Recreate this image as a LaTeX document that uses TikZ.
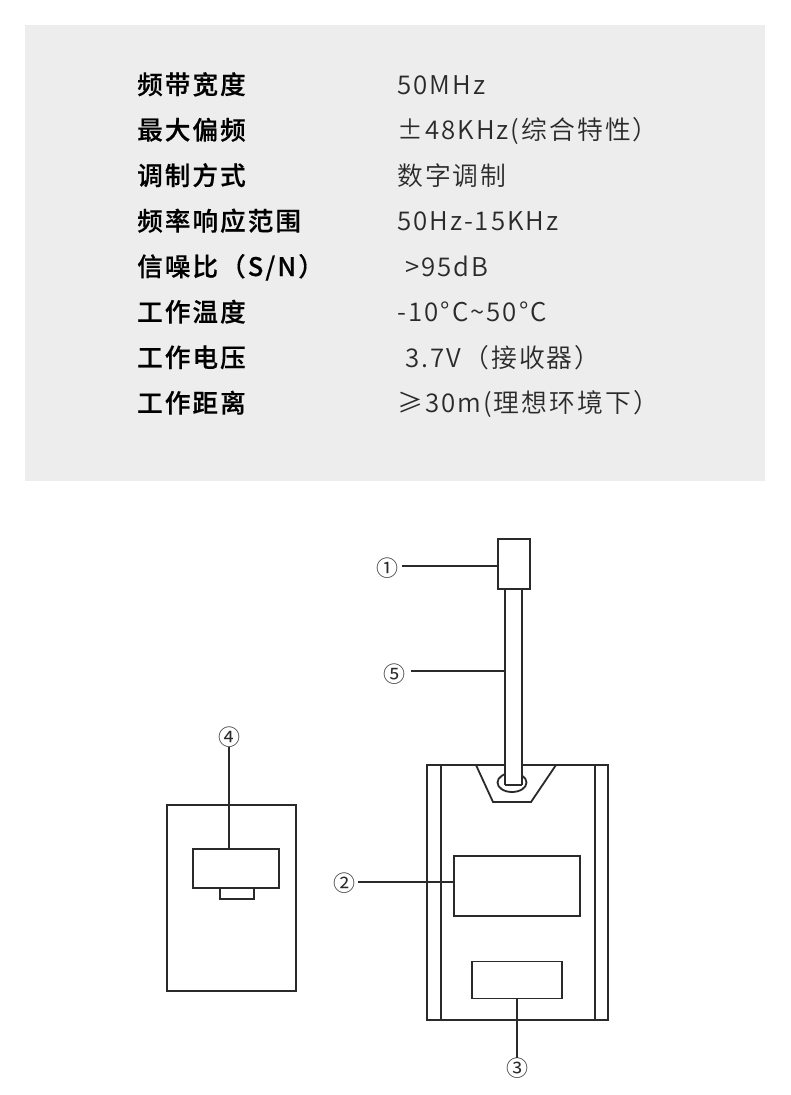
\documentclass[tikz,border=0pt]{standalone}
\usepackage{fontspec}
\setmainfont{Noto Sans CJK SC}
\newfontfamily\keyfont[LetterSpace=8,FakeBold=0.4]{Noto Sans CJK SC Medium}
\newfontfamily\valfont[LetterSpace=8]{Noto Sans CJK SC DemiLight}
\newfontfamily\numfont{Noto Sans CJK SC}
\definecolor{panel}{HTML}{EDEDED}
\definecolor{ink}{HTML}{2A2A2A}
\tikzset{
  keytext/.style={anchor=base west,inner sep=0pt,text=black,font=\keyfont\fontsize{25.6}{25.6}\selectfont},
  valtext/.style={anchor=base west,inner sep=0pt,text=ink,font=\valfont\fontsize{25.8}{25.8}\selectfont},
  mark label/.style={inner sep=0pt,text=ink,font=\numfont\fontsize{22}{22}\selectfont},
  part/.style={draw=ink,line width=1.8pt,fill=white},
  wire/.style={draw=ink,line width=1.8pt},
}
\begin{document}
\begin{tikzpicture}[x=1pt,y=-1pt]
\useasboundingbox (0,0) rectangle (790,1095);
\fill[white] (0,0) rectangle (790,1095);
\fill[panel] (25,25) rectangle (765,481);
% table
\node[keytext] (k1) at (137,94) {频带宽度};
\node[keytext] (k2) at (137,139.5) {最大偏频};
\node[keytext] (k3) at (137,185) {调制方式};
\node[keytext] (k4) at (137,230.5) {频率响应范围};
\node[keytext] (k5) at (137,276) {信噪比（S/N）};
\node[keytext] (k6) at (137,321.5) {工作温度};
\node[keytext] (k7) at (137,367) {工作电压};
\node[keytext] (k8) at (137,412.5) {工作距离};
\node[valtext] (v1) at (397,94) {50MHz};
\node[valtext] (v2) at (397,139.5) {±48KHz(综合特性）};
\node[valtext] (v3) at (397,185) {数字调制};
\node[valtext] (v4) at (397,230.5) {50Hz-15KHz};
\node[valtext] (v5) at (405,276) {>95dB};
\node[valtext] (v6) at (397,321.5) {-10°C\char`\~50°C};
\node[valtext] (v7) at (405,367) {3.7V（接收器）};
\node[valtext] (v8) at (397,412.5) {≥30m(理想环境下）};
% right device
\draw[part] (427,765) rectangle (608,1020);
\draw[wire] (441,765) -- (441,1020);
\draw[wire] (595,765) -- (595,1020);
\draw[wire] (476,765) -- (493,802) -- (531,802) -- (556,765);
\draw[wire] (512,782.5) ellipse (14.5 and 9.5);
% cable and plug
\coordinate (cableL) at (505,590);
\coordinate (cableR) at (522,590);
\fill[white] (505,590) rectangle (522,785);
\draw[wire] (505,785) -- (522,785);
\draw[wire] (505,590) -- (505,785);
\draw[wire] (522,590) -- (522,785);
\node[part,minimum width=32pt,minimum height=50pt,inner sep=0pt] (plug) at (514,564) {};
\node[part,minimum width=126pt,minimum height=60pt,inner sep=0pt] (screen) at (517,886) {};
\node[part,minimum width=90pt,minimum height=37pt,inner sep=0pt] (btn) at (517,980) {};
% left device
\node[part,minimum width=129pt,minimum height=186pt,inner sep=0pt] (body) at (231.5,898) {};
\node[part,minimum width=34pt,minimum height=11pt,inner sep=0pt] (tab) at (237,893.5) {};
\node[part,minimum width=86pt,minimum height=39pt,inner sep=0pt] (clip) at (236,868.5) {};
% labels
\node[mark label] (m1) at (387,568) {①};
\node[mark label] (m5) at (394,674) {⑤};
\node[mark label] (m4) at (229,737) {④};
\node[mark label] (m2) at (344,883) {②};
\node[mark label] (m3) at (517,1068) {③};
\coordinate (w1) at (402,566);
\coordinate (w5) at (411,671);
\coordinate (w2) at (358,882);
\draw[wire] (w1) -- (plug.west |- w1);
\draw[wire] (w5) -- (cableL |- w5);
\draw[wire] (m4.south) -- (229,849);
\draw[wire] (w2) -- (screen.west |- w2);
\draw[wire] (btn.south) -- (m3.north);
\end{tikzpicture}
\end{document}
